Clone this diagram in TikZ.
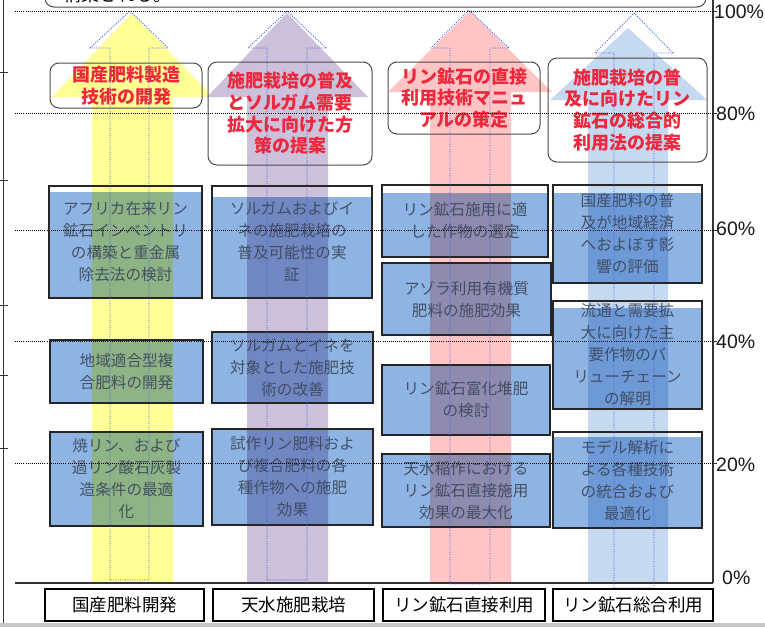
\documentclass[tikz,border=0pt]{standalone}
\usepackage{fontspec}
\setmainfont{Liberation Sans}
\newfontfamily\jp{Noto Sans CJK JP}
\usetikzlibrary{fit}
\definecolor{arrY}{RGB}{255,255,150}
\definecolor{arrP}{RGB}{204,192,218}
\definecolor{arrR}{RGB}{255,197,197}
\definecolor{arrB}{RGB}{197,217,241}
\definecolor{boxblue}{RGB}{142,180,227}
\definecolor{btext}{RGB}{60,70,90}
\definecolor{rtext}{RGB}{238,40,60}
\definecolor{dotblue}{RGB}{60,100,225}
\tikzset{
  hdot/.style={black, line width=0.9pt, dash pattern=on 1pt off 1.1pt},
  outarrow/.style={dotblue, line width=0.9pt, dash pattern=on 1pt off 1.4pt},
  boxedge/.style={draw=black!85, line width=1.2pt},
  bluetext/.style={font=\jp\fontsize{15.6}{22}\selectfont, text=btext, text opacity=0.9, align=center, inner sep=0pt},
  redtext/.style={font=\jp\bfseries\fontsize{18}{21.7}\selectfont, text=rtext, align=center, inner sep=0pt},
  capbox/.style={draw=black!70, line width=1pt, rounded corners=9pt},
  labbox/.style={draw=black, line width=1.2pt, inner sep=0pt},
  labtext/.style={font=\jp\fontsize{17.5}{20}\selectfont, text=black, inner sep=0pt},
  pct/.style={font=\fontsize{19.5}{22}\selectfont, text=black!90, anchor=west, inner sep=0pt}
}
% name, x1, y1, x2, y2, fill-top, text
\newcommand{\bluebox}[7]{%
  \begin{scope}[blend mode=multiply]\fill[boxblue] (#2,#6) rectangle (#4,#5);\end{scope}
  \node[fit={(#2,#3) (#4,#5)}, inner sep=0pt, boxedge] (#1) {};
  \node[bluetext] (#1t) at (#1.center) {#7};
}
% name, x1, y1, x2, y2, text
\newcommand{\redcap}[6]{%
  \node[fit={(#2,#3) (#4,#5)}, inner sep=0pt, capbox] (#1) {};
  \node[redtext] (#1t) at (#1.center) {#6};
}
% name, x1, x2, text
\newcommand{\labcell}[4]{%
  \node[fit={(#2,589) (#3,621)}, labbox] (#1) {};
  \node[labtext] (#1t) at (#1.center) {#4};
}
\begin{document}
\begin{tikzpicture}[x=1pt,y=-1pt]
\useasboundingbox (0,0) rectangle (765,627);
\clip (0,0) rectangle (765,627);
\fill[white] (0,0) rectangle (765,627);
\fill[black!22] (0,623) rectangle (765,627);

% top (cut) caption box
\draw[black!70, line width=1pt, rounded corners=9pt] (45,-30) rectangle (706,7);
\node[font=\jp\fontsize{18}{20}\selectfont, anchor=base west, inner sep=0pt] (toptext) at (63,1) {構築される。};

% big filled arrows
\fill[arrY] (92,583)--(92,97)--(52,97)--(132,13)--(213,97)--(173,97)--(173,583)--cycle;
\fill[arrP] (247,583)--(247,97)--(207,97)--(287,13)--(368,97)--(328,97)--(328,583)--cycle;
\fill[arrR] (430,583)--(430,92)--(388,92)--(470,11)--(552,92)--(511,92)--(511,583)--cycle;
\fill[arrB] (588,583)--(588,100)--(550,100)--(628,28)--(707,100)--(668,100)--(668,583)--cycle;

% axes
\draw[black!80, line width=1pt] (3,0) -- (3,623);
\foreach \yy in {72,180,305,375,448} \draw[black!80, line width=1pt] (0,\yy) -- (8,\yy);
\draw[black!80, line width=1.2pt] (713,0) -- (713,583);
\draw[black!80, line width=1.3pt] (15,583) -- (713,583);

% red caption boxes
\redcap{r1}{50}{63}{202}{108}{国産肥料製造\\技術の開発}
\redcap{r2}{208}{62}{372}{165}{施肥栽培の普及\\とソルガム需要\\拡大に向けた方\\策の提案}
\redcap{r3}{388}{62}{540}{134}{リン鉱石の直接\\利用技術マニュ\\アルの策定}
\redcap{r4}{548}{58}{707}{162}{施肥栽培の普\\及に向けたリン\\鉱石の総合的\\利用法の提案}

% blue boxes
\bluebox{b1a}{49}{186}{202}{298}{192}{アフリカ在来リン\\鉱石インベントリ\\の構築と重金属\\除去法の検討}
\bluebox{b1b}{50}{340}{203}{403}{340}{地域適合型複\\合肥料の開発}
\bluebox{b1c}{50}{432}{203}{526}{432}{焼リン、および\\過リン酸石灰製\\造条件の最適\\化}
\bluebox{b2a}{212}{186}{372}{298}{197}{ソルガムおよびイ\\ネの施肥栽培の\\普及可能性の実\\証}
\bluebox{b2b}{212}{332}{373}{403}{332}{ソルガムとイネを\\対象とした施肥技\\術の改善}
\bluebox{b2c}{212}{429}{373}{525}{429}{試作リン肥料およ\\び複合肥料の各\\種作物への施肥\\効果}
\bluebox{b3a}{382}{185}{548}{257}{193}{リン鉱石施用に適\\した作物の選定}
\bluebox{b3b}{382}{263}{551}{335}{263}{アゾラ利用有機質\\肥料の施肥効果}
\bluebox{b3c}{382}{365}{550}{435}{365}{リン鉱石富化堆肥\\の検討}
\bluebox{b3d}{382}{454}{550}{527}{454}{天水稲作における\\リン鉱石直接施用\\効果の最大化}
\bluebox{b4a}{553}{185}{702}{283}{193}{国産肥料の普\\及が地域経済\\へおよぼす影\\響の評価}
\bluebox{b4b}{553}{301}{702}{409}{308}{流通と需要拡\\大に向けた主\\要作物のバ\\リューチェーン\\の解明}
\bluebox{b4c}{553}{432}{702}{528}{437}{モデル解析に\\よる各種技術\\の統合および\\最適化}

% dotted arrow outlines
\draw[outarrow] (110,580)--(110,48)--(90,48)--(130,11)--(168,48)--(149,48)--(149,580)--cycle;
\draw[outarrow] (267,580)--(267,48)--(248,48)--(287,11)--(326,48)--(307,48)--(307,580)--cycle;
\draw[outarrow] (450,584)--(450,48)--(431,48)--(469,10)--(509,48)--(490,48)--(490,584)--cycle;
\draw[outarrow] (614,588)--(614,53)--(595,53)--(634,13)--(673,53)--(654,53)--(654,588)--cycle;

% horizontal dotted grid lines and right ticks
\foreach \yy in {11,113,230,341,463} {
  \draw[hdot] (15,\yy) -- (713,\yy);
  \draw[black!80, line width=1pt] (713,\yy) -- (717,\yy);
}

% percent labels
\node[pct] (p100) at (714,12) {100\%};
\node[pct] (p80) at (716,114) {80\%};
\node[pct] (p60) at (716,229) {60\%};
\node[pct] (p40) at (716,342) {40\%};
\node[pct] (p20) at (716,465) {20\%};
\node[pct] (p0) at (722,578) {0\%};

% bottom labels
\labcell{l1}{45}{204}{国産肥料開発}
\labcell{l2}{213}{374}{天水施肥栽培}
\labcell{l3}{383}{545}{リン鉱石直接利用}
\labcell{l4}{553}{713}{リン鉱石総合利用}
\end{tikzpicture}
\end{document}
